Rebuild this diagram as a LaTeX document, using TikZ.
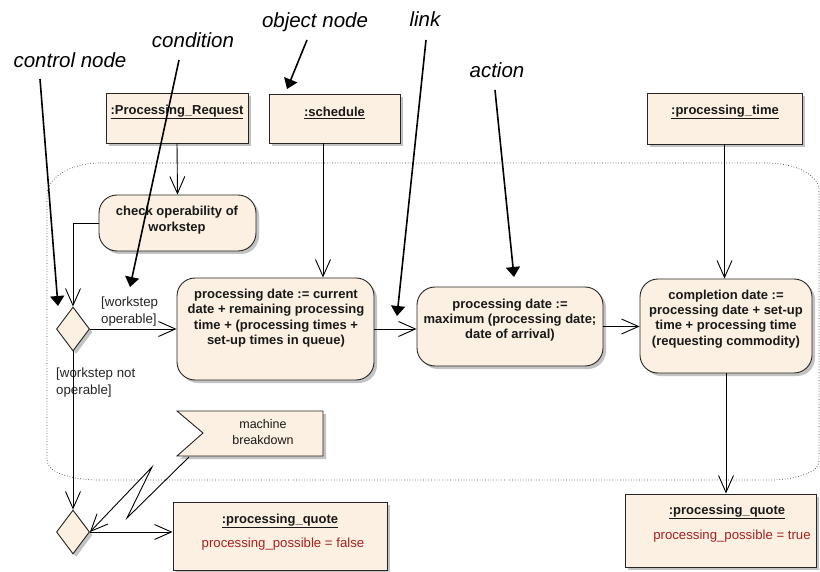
\documentclass[tikz,border=0pt]{standalone}
\usepackage{fontspec}
\setmainfont{Liberation Sans}
\usetikzlibrary{arrows.meta,shapes.geometric,shadows,calc}
\definecolor{fillc}{RGB}{251,240,226}
\definecolor{redt}{RGB}{168,32,32}
\definecolor{shadc}{RGB}{195,195,195}
\begin{document}
\begin{tikzpicture}[x=1pt,y=-1pt,
  shd/.style={general shadow={fill=shadc, shadow xshift=3pt, shadow yshift=-3pt}},
  objbox/.style={draw=black!85, fill=fillc, line width=0.9pt, shd, inner sep=0pt},
  actbox/.style={objbox, rounded corners=18pt},
  dec/.style={objbox, shape=diamond, minimum width=33pt, minimum height=44pt},
  bt/.style={font=\fontsize{13}{15.3}\selectfont\bfseries, align=center, inner sep=0pt, text=black!90},
  nt/.style={font=\fontsize{12.5}{16.5}\selectfont, align=center, inner sep=0pt, text=black!90},
  rt/.style={font=\fontsize{13.2}{15}\selectfont, inner sep=0pt, text=redt},
  guard/.style={font=\fontsize{13.3}{17}\selectfont, align=left, inner sep=0pt, text=black!85},
  ann/.style={font=\fontsize{20.5}{21}\selectfont\itshape, inner sep=0pt, anchor=base},
  flow/.style={line width=0.9pt, -{Straight Barb[length=17pt,width=15pt,line width=0.9pt]}},
  annarrow/.style={line width=1.6pt, -{Triangle[length=10pt,width=14pt]}},
  region/.style={dotted, line width=0.7pt, black!75}
  ]
\useasboundingbox (0,0) rectangle (820,572);

% interruptible region
\draw[region] (100,163) -- (767,163) .. controls (795,163) and (819,175) .. (819,190)
  -- (819,462) .. controls (819,472) and (795,480) .. (770,480)
  -- (100,480) .. controls (70,480) and (47,472) .. (47,460)
  -- (47,195) .. controls (47,178) and (70,163) .. (100,163) -- cycle;

% object nodes
\node[objbox, minimum width=142pt, minimum height=50pt] (pr) at (177,118) {};
\node[bt] (prT) at (177,112) {\underline{:Processing\_Request}};
\node[objbox, minimum width=131pt, minimum height=49pt] (sch) at (334.5,118.5) {};
\node[bt] (schT) at (334.5,113) {\underline{:schedule}};
\node[objbox, minimum width=155pt, minimum height=51pt] (pt) at (724.5,118.5) {};
\node[bt] (ptT) at (725,112) {\underline{:processing\_time}};

% actions
\node[actbox, minimum width=157pt, minimum height=56pt] (chk) at (177.5,223) {};
\node[bt] (chkT) at (177,220) {check operability of\\workstep};
\node[actbox, minimum width=197pt, minimum height=102pt] (a2) at (275.5,329) {};
\node[bt] (a2T) at (276,318) {processing date := current\\date + remaining processing\\time + (processing times +\\set-up times in queue)};
\node[actbox, minimum width=186pt, minimum height=79pt] (a3) at (510,326.5) {};
\node[bt] (a3T) at (510,320) {processing date :=\\maximum (processing date;\\date of arrival)};
\node[actbox, minimum width=172pt, minimum height=94pt] (a4) at (726,326) {};
\node[bt] (a4T) at (726,319) {completion date :=\\processing date + set-up\\time + processing time\\(requesting commodity)};

% decisions
\node[dec] (d1) at (73,329) {};
\node[dec] (d2) at (73,532) {};

% accept event
\draw[objbox] (177,411) -- (323,411) -- (323,456) -- (177,456) -- (203,433) -- cycle;
\node[nt] (mbT) at (263,432) {machine\\breakdown};
\coordinate (mb) at (189,457);
\coordinate (z1) at (127,518);
\coordinate (z2) at (152,467);

% result object nodes
\node[objbox, minimum width=214pt, minimum height=68pt] (qf) at (280,536) {};
\node[bt] (qfT) at (280,521) {\underline{:processing\_quote}};
\node[rt] (qfA) at (283,544) {processing\_possible = false};
\node[objbox, minimum width=191pt, minimum height=73pt] (qt) at (720.5,530.5) {};
\node[bt] (qtT) at (727,512) {\underline{:processing\_quote}};
\node[rt] (qtA) at (732,536) {processing\_possible = true};

% guards
\node[guard, anchor=west] (g1) at (101,312) {[workstep\\operable]};
\node[guard, anchor=west] (g2) at (56,383) {[workstep not\\operable]};

% flows
\draw[flow] (pr.south) -- (chk.north);
\draw[flow] (chk.west) -| (d1.north);
\draw[flow] (sch.south -| 323,0) -- (a2.north -| 323,0);
\draw[flow] (d1.east) -- (d1.east -| a2.west);
\draw[flow] (a2.east) -- (a2.east -| a3.west);
\draw[flow] (a3.east) -- (a3.east -| a4.west);
\draw[flow] (pt.south) -- (pt.south |- a4.north);
\draw[flow] (a4.south) -- (a4.south |- qt.north);
\draw[flow] (d1.south) -- (d2.north);
\draw[flow] (d2.east) -- (d2.east -| qf.west);
\draw[flow] (mb) -- (z1) -- (z2) -- (d2.east);

% annotations
\node[ann] (lcn) at (70,68) {control node};
\node[ann] (lcd) at (193,48) {condition};
\node[ann] (lon) at (315,28) {object node};
\node[ann] (lln) at (425,27) {link};
\node[ann] (lac) at (497,78) {action};
\coordinate (cnS) at (40,79);   \coordinate (cnE) at (58,306);
\coordinate (cdS) at (179,60);  \coordinate (cdE) at (130,287);
\coordinate (onS) at (307,40);  \coordinate (onE) at (287,89);
\coordinate (lnS) at (426,40);  \coordinate (lnE) at (397,316);
\coordinate (acS) at (495,90);  \coordinate (acE) at (514,277);
\draw[annarrow] (cnS) -- (cnE);
\draw[annarrow] (cdS) -- (cdE);
\draw[annarrow] (onS) -- (onE);
\draw[annarrow] (lnS) -- (lnE);
\draw[annarrow] (acS) -- (acE);
\end{tikzpicture}
\end{document}
